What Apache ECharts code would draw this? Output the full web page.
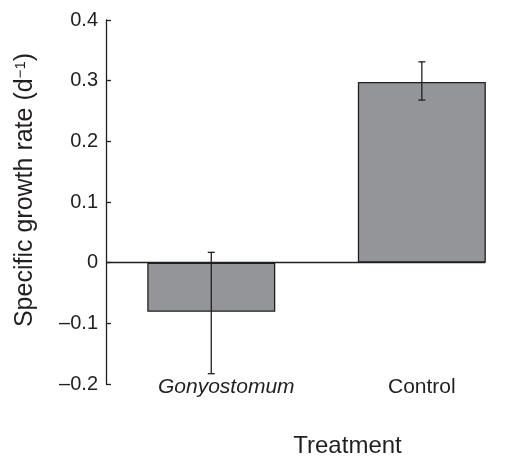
<!DOCTYPE html>
<html>
<head>
<meta charset="utf-8">
<script src="https://cdn.jsdelivr.net/npm/echarts@6/dist/echarts.min.js"></script>
<style>
  html, body { margin: 0; padding: 0; background: #ffffff; }
  #chart { width: 523px; height: 457px; }
</style>
</head>
<body>
<div id="chart"></div>
<script>
// ---- data ----
const categories = ['Gonyostomum', 'Control'];
const growthRate = [-0.081, 0.298];
const errorLow   = [-0.183, 0.268];
const errorHigh  = [0.017, 0.331];
const yMin = -0.2, yMax = 0.4, yStep = 0.1;
const yAxisTitle = 'Specific growth rate (d';
const yAxisTitleSup = '\u22121';
const xAxisTitle = 'Treatment';

const ink = '#231f20';
const font = '"Liberation Sans", Arial, Helvetica, sans-serif';

const barData = categories.map((c, i) => [i + 0.5, growthRate[i]]);
const errData = categories.map((c, i) => [i + 0.5, errorLow[i], errorHigh[i]]);

const chart = echarts.init(document.getElementById('chart'));
chart.setOption({
  animation: false,
  backgroundColor: '#ffffff',
  textStyle: { fontFamily: font, color: ink },
  grid: { left: 106, top: 20, width: 379, bottom: 73, containLabel: false, outerBoundsMode: 'none' },
  xAxis: {
    type: 'value',
    min: 0,
    max: 1.8,
    axisLine: { show: false },
    axisTick: { show: false },
    splitLine: { show: false },
    axisLabel: {
      customValues: categories.map((c, i) => i + 0.5),
      margin: -7,
      fontSize: 21,
      color: ink,
      fontFamily: font,
      formatter: function (v) {
        const i = Math.round(v - 0.5);
        return i === 0 ? '{i|' + categories[i] + '}' : categories[i];
      },
      rich: {
        i: { fontStyle: 'italic', fontSize: 21, color: ink, fontFamily: font, padding: [0, 0, 0, 30] }
      }
    },
    name: xAxisTitle,
    nameLocation: 'middle',
    nameGap: 50,
    nameTextStyle: { fontSize: 24, color: ink, fontFamily: font, padding: [0, 0, 0, 104] }
  },
  yAxis: {
    type: 'value',
    min: yMin,
    max: yMax,
    interval: yStep,
    axisLine: { show: true, lineStyle: { color: ink, width: 1.3 } },
    axisTick: { show: true, inside: true, length: 5, lineStyle: { color: ink, width: 1.3 } },
    splitLine: { show: false },
    axisLabel: {
      margin: 8,
      fontSize: 20,
      color: ink,
      fontFamily: font,
      formatter: function (v) {
        const r = Math.round(v * 10) / 10;
        return r === 0 ? '0' : String(r).replace('-', '\u2013');
      }
    },
    name: yAxisTitle + '{sup|' + yAxisTitleSup + '})',
    nameLocation: 'middle',
    nameGap: 68,
    nameTextStyle: {
      fontSize: 25, color: ink, fontFamily: font, padding: [0, 0, 0, 24],
      rich: { sup: { fontSize: 15, color: ink, fontFamily: font, verticalAlign: 'top', padding: [0, 0, 8, 0] } }
    }
  },
  series: [
    {
      type: 'bar',
      data: barData,
      barWidth: 128,
      itemStyle: { color: '#939598', borderColor: ink, borderWidth: 1.3 },
      markLine: {
        silent: true,
        symbol: 'none',
        label: { show: false },
        lineStyle: { color: ink, width: 1.3, type: 'solid' },
        data: [{ yAxis: 0 }]
      }
    },
    {
      type: 'custom',
      data: errData,
      encode: { x: 0, y: [1, 2] },
      z: 5,
      renderItem: function (params, api) {
        const x = api.value(0);
        const lo = api.coord([x, api.value(1)]);
        const hi = api.coord([x, api.value(2)]);
        const hw = 3.5;
        const st = { stroke: ink, lineWidth: 1.3 };
        return {
          type: 'group',
          children: [
            { type: 'line', shape: { x1: lo[0], y1: lo[1], x2: hi[0], y2: hi[1] }, style: st },
            { type: 'line', shape: { x1: lo[0] - hw, y1: lo[1], x2: lo[0] + hw, y2: lo[1] }, style: st },
            { type: 'line', shape: { x1: hi[0] - hw, y1: hi[1], x2: hi[0] + hw, y2: hi[1] }, style: st }
          ]
        };
      }
    }
  ]
});
</script>
</body>
</html>
